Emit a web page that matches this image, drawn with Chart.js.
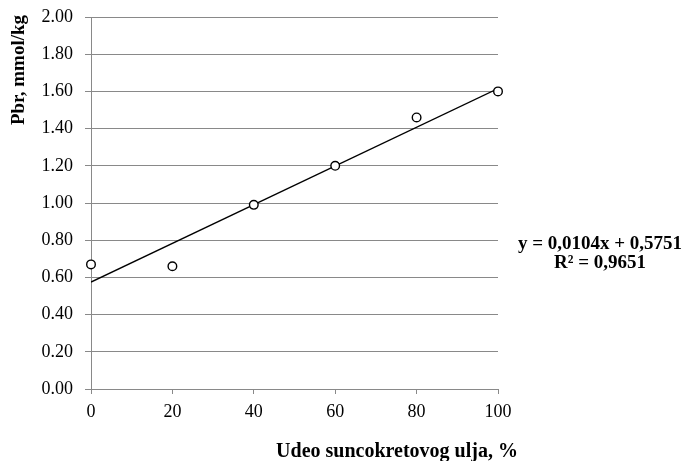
<!DOCTYPE html>
<html>
<head>
<meta charset="utf-8">
<script src="https://cdn.jsdelivr.net/npm/chart.js@4.4.1/dist/chart.umd.min.js"></script>
<style>
  html, body { margin: 0; padding: 0; background: #fff; }
  #wrap { width: 684px; height: 461px; position: relative; }
</style>
</head>
<body>
<div id="wrap"><canvas id="c" width="684" height="461"></canvas></div>
<script>
// Sunflower oil share (%) and measured Pbr values
const oilShare = [0, 20, 40, 60, 80, 100];
const pbrValues = [0.67, 0.66, 0.99, 1.20, 1.46, 1.60];

// Linear trend coefficients and fit quality
const trendSlope = 0.0104;
const trendIntercept = 0.5751;
const trendR2 = 0.9651;

// Axis titles and equation text
const xTitle = 'Udeo suncokretovog ulja, %';
const yTitle = 'Pbr, mmol/kg';
const eqLine = 'y = 0,0104x + 0,5751';
const r2Line = 'R² = 0,9651';

const GRID = '#898989';
const SERIF = '"Liberation Serif", "Times New Roman", serif';

const points = oilShare.map((x, i) => ({ x: x, y: pbrValues[i] }));
const trendEnds = [0, 100].map(x => ({ x: x, y: trendSlope * x + trendIntercept }));

const textPlugin = {
  id: 'texts',
  afterDraw(chart) {
    const ctx = chart.ctx;
    ctx.save();
    ctx.fillStyle = '#000';
    ctx.textBaseline = 'middle';
    ctx.textAlign = 'center';
    // y-axis title, rotated, near the top
    ctx.font = 'bold 19px ' + SERIF;
    ctx.save();
    ctx.translate(19, 70);
    ctx.rotate(-Math.PI / 2);
    ctx.fillText(yTitle, 0, 0);
    ctx.restore();
    // trend equation
    ctx.fillText(eqLine, 600, 244);
    ctx.fillText(r2Line, 600, 263);
    // x-axis title
    ctx.font = 'bold 20px ' + SERIF;
    ctx.fillText(xTitle, 397, 452);
    ctx.restore();
  }
};

new Chart(document.getElementById('c'), {
  type: 'scatter',
  data: {
    datasets: [
      {
        label: 'Pbr',
        data: points,
        clip: false,
        pointRadius: 4.3,
        pointHoverRadius: 4.3,
        pointBackgroundColor: '#fff',
        pointBorderColor: '#000',
        pointBorderWidth: 1.4,
        order: 1
      },
      {
        type: 'line',
        label: 'Trend',
        data: trendEnds,
        borderColor: '#000',
        borderWidth: 1.4,
        pointRadius: 0,
        fill: false,
        order: 2
      }
    ]
  },
  options: {
    responsive: false,
    animation: false,
    devicePixelRatio: 1,
    layout: { padding: { top: 17, right: 186, left: 0, bottom: 0 } },
    plugins: { legend: { display: false }, tooltip: { enabled: false } },
    scales: {
      x: {
        type: 'linear',
        min: 0, max: 100,
        afterFit(s) { s.height = 72; s.paddingLeft = 0; s.paddingRight = 0; },
        ticks: { stepSize: 20, color: '#000', padding: 7, font: { family: SERIF, size: 18 } },
        grid: { drawOnChartArea: false, drawTicks: true, tickLength: 5, color: GRID, lineWidth: 1 },
        border: { display: true, color: GRID, width: 1 }
      },
      y: {
        min: 0, max: 2,
        afterFit(s) { s.width = 91; s.paddingTop = 0; s.paddingBottom = 0; },
        ticks: {
          stepSize: 0.2, color: '#000', padding: 12,
          font: { family: SERIF, size: 18 },
          callback: v => v.toFixed(2)
        },
        grid: { drawTicks: true, tickLength: 6, color: GRID, lineWidth: 1 },
        border: { display: true, color: GRID, width: 1 }
      }
    }
  },
  plugins: [textPlugin]
});
</script>
</body>
</html>
